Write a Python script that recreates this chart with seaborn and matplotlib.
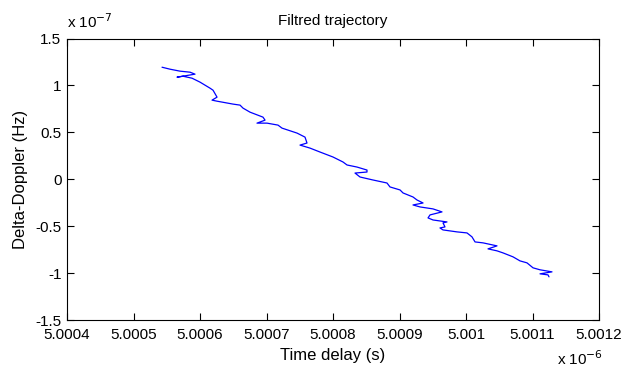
import matplotlib
matplotlib.use("Agg")
import matplotlib.pyplot as plt
import seaborn as sns
import pandas as pd

# Time delay in units of 1e-6 s
time_delay = [5.0005429, 5.0005549, 5.0005699, 5.0005850, 5.0005925, 5.0005654, 5.0005744,
              5.0005880, 5.0006000, 5.0006075, 5.0006150, 5.0006196, 5.0006256, 5.0006181,
              5.0006256, 5.0006496, 5.0006602, 5.0006647, 5.0006752, 5.0006947, 5.0006978,
              5.0006857, 5.0007008, 5.0007173, 5.0007233, 5.0007459, 5.0007579, 5.0007609,
              5.0007504, 5.0007654, 5.0007805, 5.0008000, 5.0008150, 5.0008211, 5.0008361,
              5.0008511, 5.0008511, 5.0008331, 5.0008406, 5.0008602, 5.0008812, 5.0008857,
              5.0009008, 5.0009053, 5.0009203, 5.0009263, 5.0009354, 5.0009203, 5.0009308,
              5.0009504, 5.0009639, 5.0009459, 5.0009429, 5.0009504, 5.0009714, 5.0009654,
              5.0009684, 5.0009609, 5.0009654, 5.0009865, 5.0010015, 5.0010090, 5.0010136,
              5.0010256, 5.0010466, 5.0010331, 5.0010466, 5.0010557, 5.0010707, 5.0010812,
              5.0010917, 5.0011008, 5.0011113, 5.0011293, 5.0011113, 5.0011233, 5.0011248]
# Delta-Doppler in units of 1e-7 Hz
delta_doppler = [1.194, 1.173, 1.152, 1.141, 1.120, 1.088, 1.098,
                 1.077, 1.035, 1.003, 0.971, 0.949, 0.875, 0.843,
                 0.832, 0.801, 0.790, 0.758, 0.715, 0.662, 0.630,
                 0.598, 0.598, 0.577, 0.545, 0.492, 0.449, 0.386,
                 0.364, 0.332, 0.290, 0.237, 0.184, 0.152, 0.130,
                 0.098, 0.077, 0.066, 0.024, -0.008, -0.040, -0.082,
                 -0.114, -0.146, -0.189, -0.221, -0.253, -0.274, -0.295,
                 -0.316, -0.348, -0.380, -0.412, -0.434, -0.455, -0.465,
                 -0.508, -0.519, -0.540, -0.561, -0.572, -0.614, -0.668,
                 -0.678, -0.710, -0.742, -0.763, -0.785, -0.827, -0.870,
                 -0.891, -0.944, -0.965, -0.987, -1.008, -1.019, -1.040]

x_ticks = [5.0004, 5.0005, 5.0006, 5.0007, 5.0008, 5.0009, 5.0010, 5.0011, 5.0012]
x_tick_labels = ["5.0004", "5.0005", "5.0006", "5.0007", "5.0008", "5.0009", "5.001", "5.0011", "5.0012"]
y_ticks = [-1.5, -1.0, -0.5, 0.0, 0.5, 1.0, 1.5]
y_tick_labels = ["-1.5", "-1", "-0.5", "0", "0.5", "1", "1.5"]

title = "Filtred trajectory"
x_label = "Time delay (s)"
y_label = "Delta-Doppler (Hz)"

sns.set_theme(style="white")
plt.rcParams['font.family'] = ['Liberation Sans', 'DejaVu Sans']

df = pd.DataFrame({"t": time_delay, "d": delta_doppler})

fig = plt.figure(figsize=(6.23, 3.73), dpi=100)
ax = fig.add_axes([67/623, 53/373, 532/623, 281.5/373])
sns.lineplot(data=df, x="t", y="d", sort=False, estimator=None, color="#0000FF",
             linewidth=0.9, ax=ax)

ax.set_xlim(5.0004, 5.0012)
ax.set_ylim(-1.5, 1.5)
ax.set_xticks(x_ticks)
ax.set_xticklabels(x_tick_labels)
ax.set_yticks(y_ticks)
ax.set_yticklabels(y_tick_labels)
ax.tick_params(direction="in", length=5, width=0.8, colors="black", labelsize=11,
               top=True, right=True, bottom=True, left=True, pad=4)
ax.tick_params(axis="x", pad=6)
for s in ax.spines.values():
    s.set_visible(True)
    s.set_color("black")
    s.set_linewidth(0.8)

ax.set_title(title, fontsize=11, color="black", pad=10)
ax.set_xlabel(x_label, fontsize=12, color="black", labelpad=4)
ax.set_ylabel(y_label, fontsize=12, color="black", labelpad=5)

fig.text(67/623, 1 - 28/373, r"x 10$^{-7}$", fontsize=11, color="black", ha="left", va="baseline")
fig.text(557/623, 1 - 365/373, r"x 10$^{-6}$", fontsize=11, color="black", ha="left", va="baseline")

fig.savefig("out.png", dpi=100)
